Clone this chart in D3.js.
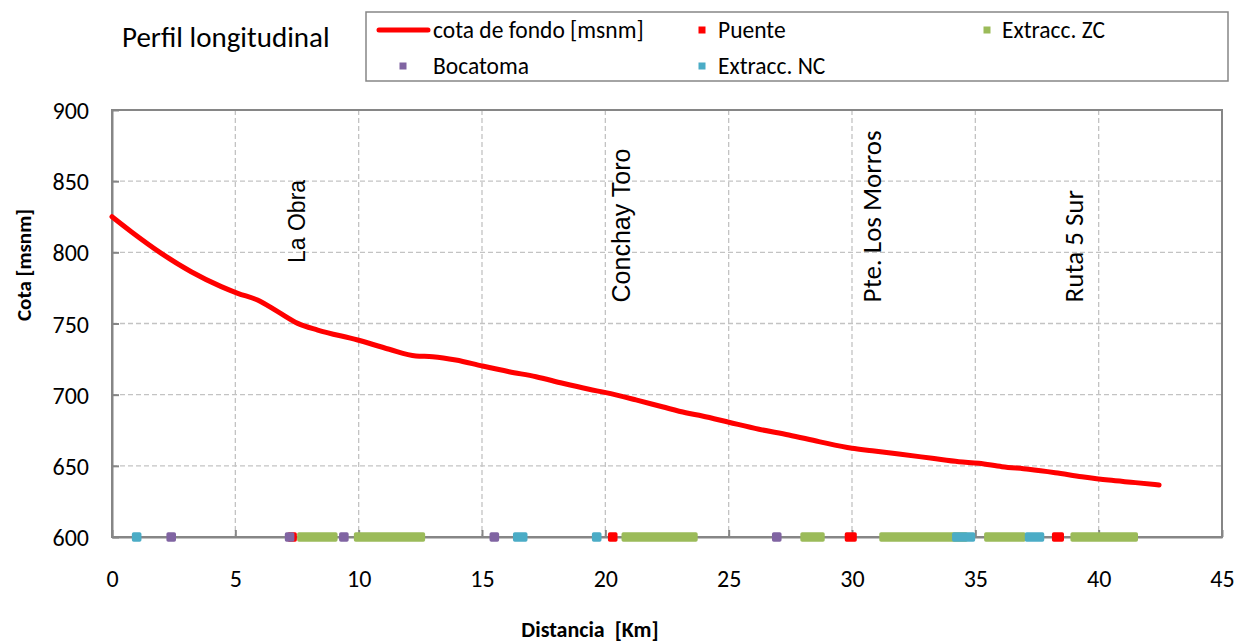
<!DOCTYPE html>
<html>
<head>
<meta charset="utf-8">
<script src="https://cdn.jsdelivr.net/npm/d3@7"></script>
<style>
  html, body { margin: 0; padding: 0; background: #fff; }
  svg { display: block; }
  text { font-family: Carlito, Lato, "Open Sans", sans-serif; fill: #000; }
</style>
</head>
<body>
<svg id="chart" width="1246" height="644"></svg>
<script>
// Longitudinal riverbed profile: distance [km] vs bed elevation [m a.s.l.]
const distKm = [0, 0.78, 2.0, 3.21, 4.43, 5.1, 5.9, 6.72, 7.53, 8.34, 9.96, 11.24, 12.32, 13.0,
  13.94, 15.02, 16.1, 17.19, 18.27, 19.34, 20.02, 21.24, 22.31, 23.26, 23.93, 25.01, 26.23,
  27.44, 28.66, 30.0, 30.82, 31.9, 33.25, 34.33, 35.14, 36.08, 37.16, 38.24, 39.32, 40.4,
  41.49, 42.45];
const cotaFondo = [825, 814.5, 799.3, 786.4, 775.9, 771.2, 766.5, 758.3, 750.1, 745.4, 738.4,
  731.9, 727.2, 726.7, 724.4, 720.1, 716.1, 712.6, 708.0, 703.8, 701.4, 696.3, 691.5, 687.3,
  685.0, 680.6, 675.7, 671.7, 667.0, 662.3, 660.6, 658.3, 655.3, 652.9, 651.8, 649.4, 647.6,
  645.2, 642.4, 640.0, 638.2, 636.5];

// Structures along the channel, as [from km, to km] stretches plotted on the 600 m baseline
const puente     = [[7.3, 7.3], [20.3, 20.3], [29.9, 30.0], [38.3, 38.4]];
const extraccZC  = [[7.7, 8.95], [10.0, 12.5], [20.85, 23.55], [28.1, 28.7], [31.3, 34.5], [35.55, 36.85], [39.05, 41.4]];
const bocatoma   = [[2.4, 2.4], [7.2, 7.2], [9.4, 9.4], [15.5, 15.5], [26.95, 26.95]];
const extraccNC  = [[1.0, 1.0], [16.45, 16.65], [19.65, 19.65], [34.25, 34.8], [37.2, 37.6]];
const baseCota = 600;

// Named places along the river
const lugares = ["La Obra", "Conchay Toro", "Pte. Los Morros", "Ruta 5 Sur"];
const lugaresKm = [7.54, 20.7, 30.9, 39.1];
const lugaresCota = [792.5, 764.8, 764.8, 764.8];

const xTicks = [0, 5, 10, 15, 20, 25, 30, 35, 40, 45];
const yTicks = [600, 650, 700, 750, 800, 850, 900];

const svg = d3.select("#chart");
const plotL = 112, plotR = 1222, plotT = 110, plotB = 537;

const x = d3.scaleLinear().domain([0, 45]).range([plotL, plotR]);
const y = d3.scaleLinear().domain([600, 900]).range([plotB, plotT]);

// grid
const grid = svg.append("g");
grid.selectAll("line.v").data(xTicks.slice(1, -1)).join("line")
  .attr("x1", d => x(d)).attr("x2", d => x(d)).attr("y1", plotT).attr("y2", plotB)
  .attr("stroke", "#c3c3c3").attr("stroke-width", 1.3).attr("stroke-dasharray", "5,3");
grid.selectAll("line.h").data(yTicks.slice(1, -1)).join("line")
  .attr("x1", plotL).attr("x2", plotR).attr("y1", d => y(d)).attr("y2", d => y(d))
  .attr("stroke", "#c3c3c3").attr("stroke-width", 1.3).attr("stroke-dasharray", "5,3");

// plot frame
svg.append("rect").attr("x", plotL).attr("y", plotT).attr("width", plotR - plotL).attr("height", plotB - plotT)
  .attr("fill", "none").attr("stroke", "#868686").attr("stroke-width", 2);

// axes (ticks point inward)
const xAxis = d3.axisBottom(x).tickValues(xTicks).tickSizeInner(-7).tickSizeOuter(0).tickPadding(33);
const yAxis = d3.axisLeft(y).tickValues(yTicks).tickSizeInner(-7).tickSizeOuter(0).tickPadding(23);
const gx = svg.append("g").attr("transform", `translate(0,${plotB})`).call(xAxis);
const gy = svg.append("g").attr("transform", `translate(${plotL},0)`).call(yAxis);
[gx, gy].forEach(g => {
  g.select(".domain").attr("stroke", "#868686").attr("stroke-width", 2);
  g.selectAll(".tick line").attr("stroke", "#868686").attr("stroke-width", 2);
  g.selectAll(".tick text").style("font-family", "Carlito, Lato, sans-serif").attr("font-size", 24).attr("fill", "#000");
});
gx.selectAll(".tick text").attr("dy", "0.72em");
gy.selectAll(".tick text").attr("dy", "0.36em");

// axis titles
svg.append("text").attr("x", 590).attr("y", 637).attr("text-anchor", "middle")
  .attr("font-size", 22).attr("font-weight", "bold").attr("xml:space", "preserve")
  .style("white-space", "pre").text("Distancia  [Km]");
svg.append("text").attr("transform", "translate(31,265) rotate(-90)").attr("text-anchor", "middle")
  .attr("font-size", 21).attr("font-weight", "bold").text("Cota [msnm]");

// structure markers, drawn in series order
const markerH = 9.5, pad = 4.8;
function drawMarks(data, color) {
  svg.append("g").selectAll("rect").data(data).join("rect")
    .attr("x", d => x(d[0]) - pad)
    .attr("width", d => x(d[1]) - x(d[0]) + 2 * pad)
    .attr("y", y(baseCota) - markerH / 2)
    .attr("height", markerH)
    .attr("rx", 1.8)
    .attr("fill", color);
}
drawMarks(puente, "#ff0000");
drawMarks(extraccZC, "#9bbb59");
drawMarks(bocatoma, "#8064a2");
drawMarks(extraccNC, "#4bacc6");

// bed profile
const line = d3.line().x((d, i) => x(distKm[i])).y(d => y(d)).curve(d3.curveMonotoneX);
svg.append("path").datum(cotaFondo).attr("d", line)
  .attr("fill", "none").attr("stroke", "#ff0000").attr("stroke-width", 5)
  .attr("stroke-linejoin", "round").attr("stroke-linecap", "round");

// place names
const lugarFont = ["'Liberation Sans', Arial, sans-serif", "'Liberation Sans', Arial, sans-serif", "Carlito, Lato, sans-serif", "Carlito, Lato, sans-serif"];
const lugarSize = [23, 25, 27, 27];
svg.append("g").selectAll("text").data(lugares).join("text")
  .attr("transform", (d, i) => `translate(${x(lugaresKm[i]) + 7},${y(lugaresCota[i])}) rotate(-90)`)
  .style("font-family", (d, i) => lugarFont[i])
  .attr("font-size", (d, i) => lugarSize[i])
  .text(d => d);

// title
svg.append("text").attr("x", 122).attr("y", 47).attr("font-size", 29).text("Perfil longitudinal");

// legend
const lg = svg.append("g");
lg.append("rect").attr("x", 366).attr("y", 12).attr("width", 862).attr("height", 69)
  .attr("fill", "#fff").attr("stroke", "#868686").attr("stroke-width", 1.5);
lg.append("line").attr("x1", 379).attr("x2", 428).attr("y1", 30).attr("y2", 30)
  .attr("stroke", "#ff0000").attr("stroke-width", 5).attr("stroke-linecap", "round");
const legItems = [
  { label: "cota de fondo [msnm]", color: null, lx: 433, ly: 30 },
  { label: "Puente", color: "#ff0000", sx: 702, lx: 718, ly: 30 },
  { label: "Extracc. ZC", color: "#9bbb59", sx: 987, lx: 1002, ly: 30 },
  { label: "Bocatoma", color: "#8064a2", sx: 403, lx: 433, ly: 66 },
  { label: "Extracc. NC", color: "#4bacc6", sx: 702, lx: 718, ly: 66 }
];
legItems.forEach(it => {
  if (it.color) {
    lg.append("rect").attr("x", it.sx - 3.5).attr("y", it.ly - 3.5).attr("width", 7).attr("height", 7).attr("fill", it.color);
  }
  lg.append("text").attr("x", it.lx).attr("y", it.ly).attr("dy", "0.36em").attr("font-size", 23.5).text(it.label);
});
</script>
</body>
</html>
